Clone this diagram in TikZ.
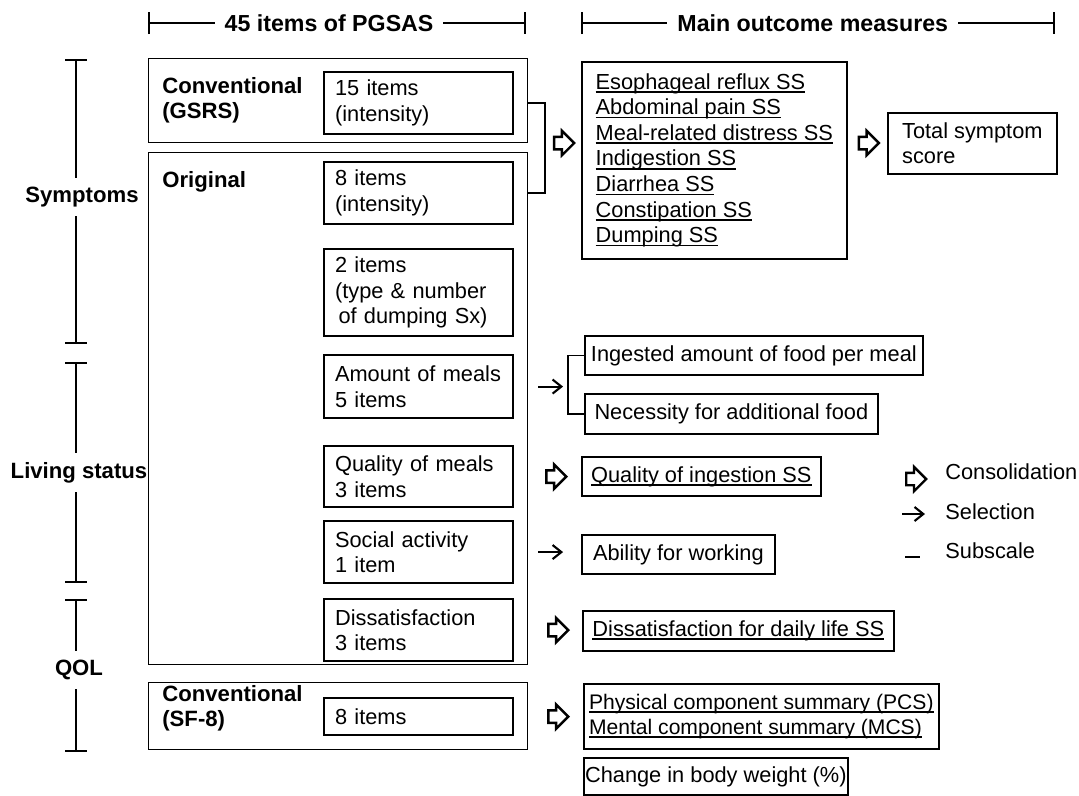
\documentclass[tikz,border=0pt]{standalone}
\usepackage{fontspec}
\setmainfont{Liberation Sans}
\usetikzlibrary{arrows.meta, calc, shapes.arrows}

\newcommand{\subsc}[1]{\leavevmode\setbox0=\hbox{#1}\rlap{\rule[-2pt]{\wd0}{0.9pt}}\box0}

\tikzset{tickbar/.tip={Bar[width=0.44cm]}}
\tikzstyle{group} = [draw, line width=0.6pt, anchor=north west, inner sep=0pt]
\tikzstyle{items} = [
    draw,
    line width=1.2pt,
    anchor=north west,
    align=left,
    text width=3.34cm,
    inner xsep=0.22cm,
    inner ysep=0pt,
]
\tikzstyle{outcome} = [draw, line width=1pt, anchor=north west, align=left, inner sep=0pt]
\tikzstyle{consol} = [
    single arrow,
    draw,
    line width=1.4pt,
    anchor=tail,
    minimum height=0.4cm,
    single arrow head extend=0.12cm,
    inner sep=0.1cm,
]
\tikzstyle{sel} = [line width=1.2pt, -{Straight Barb[length=5pt, width=8pt]}]
\tikzstyle{axis} = [line width=1.2pt, tickbar-tickbar]
\tikzstyle{axlabel} = [fill=white, inner xsep=0pt, inner ysep=0.18cm, font=\bfseries\fontsize{12.6}{14.4}\selectfont]
\tikzstyle{grouplabel} = [anchor=west, align=left, inner sep=0pt, font=\bfseries\fontsize{12.6}{14.4}\selectfont]
\tikzstyle{hlabel} = [fill=white, inner xsep=0.2cm, inner ysep=0.1cm, font=\bfseries\fontsize{13.2}{15}\selectfont]
\tikzstyle{legendtext} = [anchor=west, inner sep=0pt]

\begin{document}
\begin{tikzpicture}[x=0.02cm, y=-0.02cm, font=\fontsize{12.4}{14.6}\selectfont]
    \useasboundingbox (0,0) rectangle (1079,795);

    % headers
    \draw[axis] (148,23) -- (526,23) node (hpgsas) [hlabel, pos=0.479] {45 items of PGSAS};
    \draw[axis] (581,23) -- (1055,23) node (hmain) [hlabel, pos=0.489] {Main outcome measures};

    % left axes
    \draw[axis] (76,59) -- (76,344) node (symp) [axlabel, pos=0.484, xshift=0.12cm] {Symptoms};
    \draw[axis] (76,362) -- (76,583) node (living) [axlabel, pos=0.5, xshift=0.06cm] {Living status};
    \draw[axis] (76,599) -- (76,752) node (qol) [axlabel, pos=0.464, xshift=0.06cm] {QOL};

    % groups of PGSAS
    \node (gsrs) [group, minimum width=7.58cm, minimum height=1.68cm] at (148,58) {};
    \node (orig) [group, minimum width=7.58cm, minimum height=10.24cm] at (148,152) {};
    \node (sf8) [group, minimum width=7.58cm, minimum height=1.34cm] at (148,682) {};
    \node (lgsrs) [grouplabel] at ([xshift=0.28cm]gsrs.west) {Conventional\\(GSRS)};
    \node (lorig) [grouplabel] at ($(orig.north west)+(0.28cm,-0.6cm)$) {Original};
    \node (lsf8) [grouplabel] at ($(sf8.west)+(0.28cm,0.16cm)$) {Conventional\\(SF-8)};

    \node (i15) [items, minimum height=1.24cm] at (323,71) {15 items\\(intensity)};
    \node (i8) [items, minimum height=1.24cm] at (323,161) {8 items\\(intensity)};
    \node (i2) [items, minimum height=1.74cm] at (323,248) {2 items\\(type \& number\\\hspace*{2pt}of dumping Sx)};
    \node (amount) [items, minimum height=1.26cm] at (323,354) {Amount of meals\\5 items};
    \node (quality) [items, minimum height=1.22cm] at (323,445) {Quality of meals\\3 items};
    \node (social) [items, minimum height=1.24cm] at (323,520) {Social activity\\1 item};
    \node (dissat) [items, minimum height=1.24cm] at (323,598) {Dissatisfaction\\3 items};
    \node (sfitems) [items, minimum height=0.74cm] at (323,697) {8 items};

    % outcome measures
    \node (sub) [outcome, minimum width=5.3cm, minimum height=3.94cm] at (581,61) {\subsc{Esophageal reflux SS}\\\subsc{Abdominal pain SS}\\\subsc{Meal-related distress SS}\\\subsc{Indigestion SS}\\\subsc{Diarrhea SS}\\\subsc{Constipation SS}\\\subsc{Dumping SS}};
    \node (total) [outcome, minimum width=3.38cm, minimum height=1.22cm] at (887,112) {Total symptom\\score};
    \node (ingested) [outcome, minimum width=6.76cm, minimum height=0.78cm] at (584,335) {Ingested amount of food per meal};
    \node (necessity) [outcome, minimum width=5.86cm, minimum height=0.8cm] at (584,393) {Necessity for additional food};
    \node (qualing) [outcome, minimum width=4.78cm, minimum height=0.78cm] at (581,456) {\subsc{Quality of ingestion SS}};
    \node (ability) [outcome, minimum width=3.86cm, minimum height=0.78cm] at (581,534) {Ability for working};
    \node (dissatss) [outcome, minimum width=6.22cm, minimum height=0.8cm] at (582,610) {\subsc{Dissatisfaction for daily life SS}};
    \node (pcs) [outcome, minimum width=7.1cm, minimum height=1.3cm, font=\fontsize{12}{14.2}\selectfont] at (583,683) {\subsc{Physical component summary (PCS)}\\\subsc{Mental component summary (MCS)}};
    \node (change) [outcome, minimum width=5.28cm, minimum height=0.74cm] at (583,757) {Change in body weight (\%)};

    % consolidation and selection
    \draw[line width=0.9pt] (i15.east -| gsrs.east) -- ++(0.34cm,0) |- (i8.east -| orig.east);
    \node (csymp) [consol] at ($(gsrs.south east)+(0.5cm,0)$) {};
    \node (ctotal) [consol] at ($(sub.east |- csymp.tail)+(0.2cm,0)$) {};
    \draw[sel] ([xshift=0.48cm]amount.east) -- ++(0.5cm,0);
    \draw[line width=0.9pt] (ingested.west) -- ++(-0.32cm,0) |- (necessity.west);
    \node (cqual) [consol] at ([xshift=0.62cm]quality.east) {};
    \draw[sel] ([xshift=0.48cm]social.east) -- ++(0.5cm,0);
    \node (cdis) [consol] at ([xshift=0.66cm]dissat.east) {};
    \node (csf) [consol] at ([xshift=0.66cm]sfitems.east) {};

    % legend
    \node (lgcons) [consol] at (905,479) {};
    \node (tcons) [legendtext] at (945,472) {Consolidation};
    \coordinate (lgsel) at (902,514);
    \draw[sel] (lgsel) -- ++(0.46cm,0);
    \node (tsel) [legendtext] at (945,512) {Selection};
    \coordinate (lgsub) at (905,557);
    \draw[line width=1.1pt] (lgsub) -- ++(0.3cm,0);
    \node (tsub) [legendtext] at (945,551) {Subscale};
\end{tikzpicture}
\end{document}
